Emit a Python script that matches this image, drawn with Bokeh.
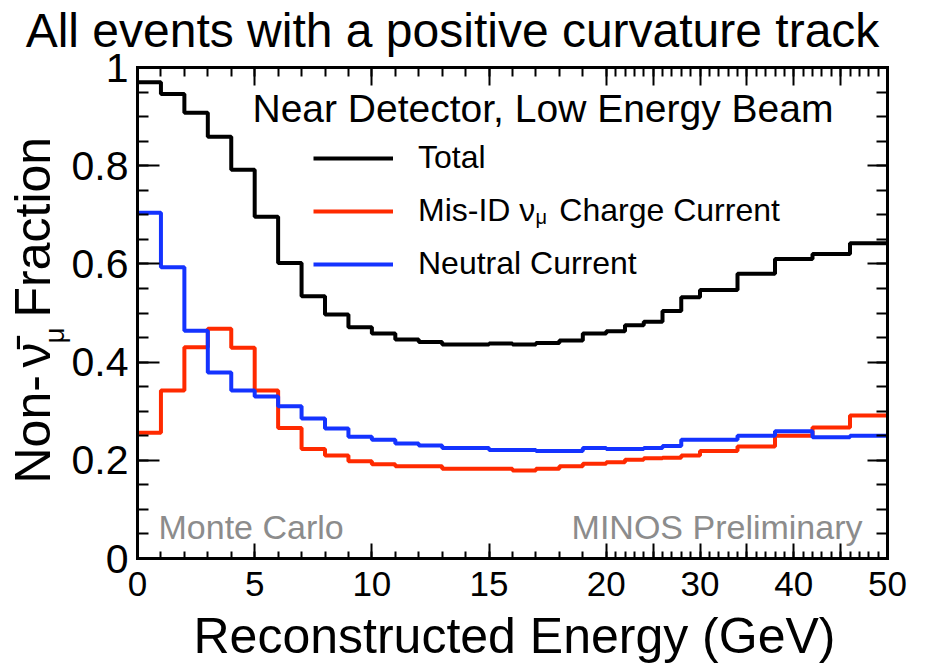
import math
from bokeh.plotting import figure
from bokeh.models import (Range1d, FixedTicker, LinearAxis, Label, Legend, LegendItem)
from bokeh.embed import file_html
from bokeh.resources import INLINE

# ---------------- data ----------------
bin_edges_gev = [0, 1, 2, 3, 4, 5, 6, 7, 8, 9, 10, 11, 12, 13, 14, 15, 16, 17, 18, 19, 20,
                 22, 24, 26, 28, 30, 34, 38, 42, 46, 50]
total_frac = [0.970, 0.946, 0.908, 0.859, 0.792, 0.696, 0.602, 0.534, 0.497, 0.471,
              0.458, 0.446, 0.441, 0.436, 0.436, 0.438, 0.436, 0.439, 0.444, 0.458,
              0.463, 0.475, 0.482, 0.504, 0.532, 0.547, 0.580, 0.610, 0.620, 0.642]
cc_frac = [0.256, 0.342, 0.430, 0.468, 0.429, 0.342, 0.266, 0.223, 0.210, 0.198,
           0.192, 0.188, 0.188, 0.183, 0.183, 0.183, 0.179, 0.183, 0.188, 0.193,
           0.196, 0.201, 0.204, 0.205, 0.210, 0.219, 0.228, 0.250, 0.267, 0.291]
nc_frac = [0.704, 0.593, 0.464, 0.379, 0.342, 0.330, 0.310, 0.285, 0.265, 0.248,
           0.242, 0.234, 0.230, 0.225, 0.225, 0.221, 0.221, 0.219, 0.219, 0.225,
           0.223, 0.223, 0.225, 0.229, 0.242, 0.242, 0.250, 0.259, 0.247, 0.250]
x_labeled_gev = [0, 5, 10, 15, 20, 30, 40, 50]
x_unlabeled_gev = [25, 35, 45]
y_major = [0, 0.2, 0.4, 0.6, 0.8, 1.0]
y_labels = ["0", "0.2", "0.4", "0.6", "0.8", "1"]
series_names = ["Total", "Mis-ID \u03bd\u2002\u2005Charge Current", "Neutral Current"]

# broken energy axis: linear up to 20 GeV, compressed by 0.4 beyond
BREAK_GEV = 20.0
COMPRESS = 0.4
E_MAX = 50


def axis_pos(e):
    return e if e <= BREAK_GEV else BREAK_GEV + (e - BREAK_GEV) * COMPRESS


# ---------------- layout (pixels) ----------------
W, H = 911, 664
BOX_L, BOX_R, BOX_T, BOX_B = 137, 887, 67, 558
X_MAX = axis_pos(E_MAX)
px_x = (BOX_R - BOX_L) / X_MAX
px_y = (BOX_B - BOX_T) / 1.0
FONT = "Liberation Sans"

p = figure(width=W, height=H, min_border=0,
           x_range=Range1d(-BOX_L / px_x, X_MAX + (W - BOX_R) / px_x),
           y_range=Range1d(-(H - BOX_B) / px_y, BOX_B / px_y),
           output_backend="svg", toolbar_location=None, x_axis_type=None, y_axis_type=None)
p.title = None
p.grid.visible = False
p.outline_line_color = None
p.background_fill_color = "white"
p.border_fill_color = "white"

xs = [axis_pos(e) for e in bin_edges_gev]


def step(vals, color):
    return p.step(x=xs, y=list(vals) + [vals[-1]], mode="after", line_color=color, line_width=4)


r_tot = step(total_frac, "#000000")
r_cc = step(cc_frac, "#ff2a00")
r_nc = step(nc_frac, "#1433ff")

# ---------------- axes ----------------
x_lab = [axis_pos(v) for v in x_labeled_gev]
x_unl = [axis_pos(v) for v in x_unlabeled_gev]
x_all = sorted(x_lab + x_unl)
x_minor = [axis_pos(v) for v in range(0, E_MAX + 1)]
x_over = {axis_pos(v): str(v) for v in x_labeled_gev}
y_minor = [i * 0.05 for i in range(21)]
y_over = {v: s for v, s in zip(y_major, y_labels)}


def make_axis(side, loc, bounds, ticks, minor, tin, tmin, line=True, labels=None, size="16px",
              standoff=0):
    ax = LinearAxis(ticker=FixedTicker(ticks=ticks, minor_ticks=minor),
                    fixed_location=loc, bounds=bounds)
    ax.axis_line_width = 3
    ax.axis_line_color = "black" if line else None
    ax.axis_line_cap = "square"
    ax.major_tick_in = tin
    ax.major_tick_out = 0
    ax.minor_tick_in = tmin
    ax.minor_tick_out = 0
    ax.major_tick_line_width = 2
    ax.minor_tick_line_width = 2
    ax.major_tick_line_color = "black"
    ax.minor_tick_line_color = "black"
    if labels is None:
        ax.major_label_text_color = None
    else:
        ax.major_label_overrides = labels
        ax.major_label_text_font = FONT
        ax.major_label_text_font_size = size
        ax.major_label_text_color = "black"
        ax.major_label_standoff = standoff
    p.add_layout(ax, side)
    return ax


xb = (0, X_MAX)
yb = (0, 1)
make_axis("below", 0, xb, x_lab, x_minor, 15, 7, labels=x_over, size="35px", standoff=13)
make_axis("below", 0, xb, x_unl, [], 15, 0, line=False)
make_axis("above", 1, xb, x_all, x_minor, 18, 9)
make_axis("left", 0, yb, y_major, y_minor, 22, 11, labels=y_over, size="41px", standoff=9)
make_axis("right", X_MAX, yb, y_major, y_minor, 20, 11)

# ---------------- legend ----------------
legend = Legend(items=[LegendItem(label=series_names[0], renderers=[r_tot]),
                       LegendItem(label=series_names[1], renderers=[r_cc]),
                       LegendItem(label=series_names[2], renderers=[r_nc])],
                location=(313, H - 282), glyph_width=80, glyph_height=30, label_height=30,
                spacing=16, label_standoff=25, padding=0, margin=0,
                label_text_font=FONT, label_text_font_size="32px", label_text_color="black",
                background_fill_alpha=0, border_line_color=None)
p.add_layout(legend)

MID = 0.35  # distance from baseline to the middle of the text box, in em


def lab(text, x, base, size, color="black", align="left", rotated=False):
    # x, base: pixel position of the text's start and baseline, from the canvas's top-left
    if rotated:
        sx, sy, ang = x - MID * size, H - base, math.pi / 2
    else:
        sx, sy, ang = x, H - (base - MID * size), 0.0
    p.add_layout(Label(x=sx, y=sy, x_units="screen", y_units="screen", text=text,
                       text_font=FONT, text_font_size=f"{size}px", text_color=color,
                       text_align=align, text_baseline="middle", angle=ang))


lab("\u03bc", 535, 223, 20)
lab("Near Detector, Low Energy Beam", 252, 122, 39)
lab("Monte Carlo", 158, 538, 34, "#8c8c8c")
lab("MINOS Preliminary", 862, 538, 34, "#8c8c8c", "right")
lab("All events with a positive curvature track", 452, 47, 48, align="center")
lab("Reconstructed Energy (GeV)", 193, 653, 50)
# rotated y-axis title: (baseline x, start y)
lab("Non-", 50, 483, 50, rotated=True)
lab("\u03bd\u0304", 50, 367, 50, rotated=True)
lab("\u03bc", 64, 343, 28, rotated=True)
lab("Fraction", 50, 317, 50, rotated=True)

open("out.html", "w").write(file_html(p, INLINE))
